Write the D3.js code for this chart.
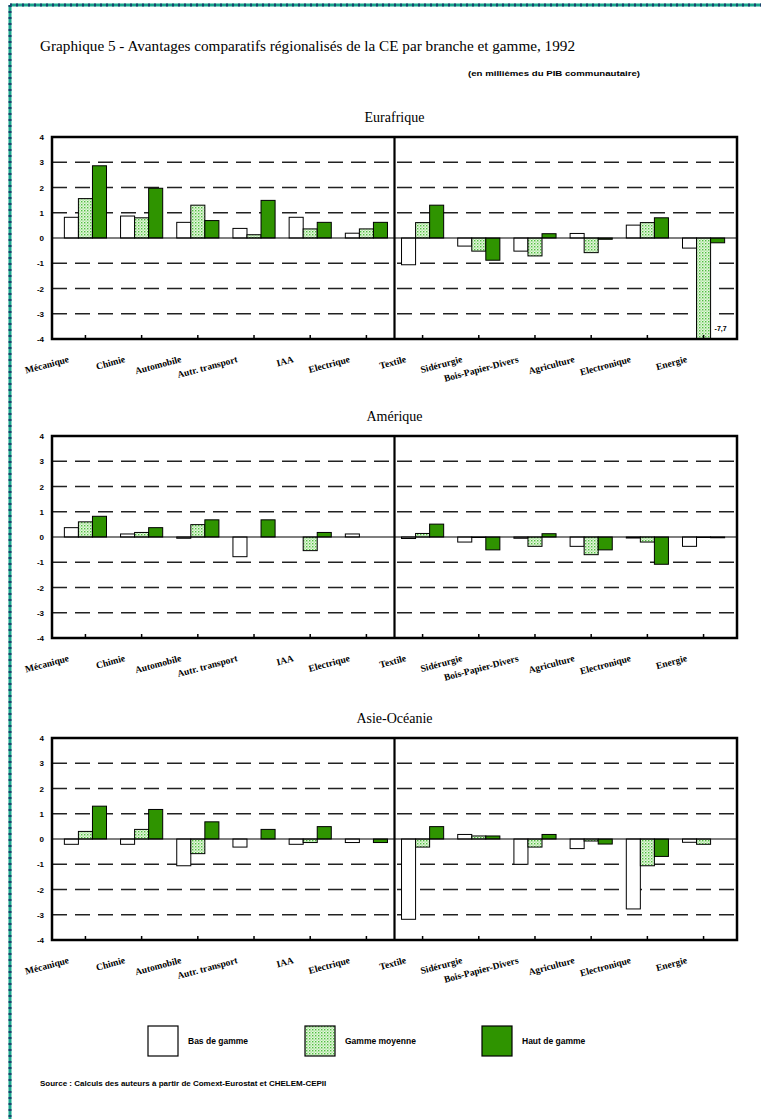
<!DOCTYPE html>
<html><head><meta charset="utf-8">
<script src="https://cdn.jsdelivr.net/npm/d3@7"></script>
<style>body{margin:0;background:#fff}svg{display:block}</style>
</head><body>
<script>
// ---------- data ----------
const categories = ["Mécanique","Chimie","Automobile","Autr. transport","IAA","Electrique","Textile","Sidérurgie","Bois-Papier-Divers","Agriculture","Electronique","Energie"];
const series = ["Bas de gamme","Gamme moyenne","Haut de gamme"];
const regions = ["Eurafrique","Amérique","Asie-Océanie"];
const yTicks = [4,3,2,1,0,-1,-2,-3,-4];

const eurafriqueBas     = [0.82,0.87,0.62,0.38,0.82,0.19,-1.06,-0.32,-0.52,0.18,0.51,-0.40];
const eurafriqueMoyenne = [1.56,0.80,1.30,0.13,0.36,0.36,0.61,-0.52,-0.71,-0.58,0.61,-7.7];
const eurafriqueHaut    = [2.86,1.97,0.69,1.49,0.62,0.62,1.30,-0.88,0.17,-0.05,0.80,-0.19];

const ameriqueBas       = [0.37,0.12,-0.05,-0.78,0,0.12,-0.06,-0.20,-0.05,-0.37,-0.04,-0.37];
const ameriqueMoyenne   = [0.60,0.18,0.49,0,-0.54,0,0.14,-0.02,-0.37,-0.70,-0.20,-0.02];
const ameriqueHaut      = [0.82,0.37,0.68,0.68,0.18,0,0.51,-0.51,0.13,-0.51,-1.08,-0.03];

const asieBas           = [-0.21,-0.21,-1.06,-0.32,-0.21,-0.14,-3.18,0.18,-1.00,-0.38,-2.77,-0.13];
const asieMoyenne       = [0.30,0.38,-0.58,0,-0.14,0,-0.32,0.12,-0.32,-0.08,-1.06,-0.21];
const asieHaut          = [1.30,1.17,0.68,0.38,0.49,-0.14,0.49,0.12,0.18,-0.20,-0.69,0];

const regionData = [
  [eurafriqueBas, eurafriqueMoyenne, eurafriqueHaut],
  [ameriqueBas, ameriqueMoyenne, ameriqueHaut],
  [asieBas, asieMoyenne, asieHaut]
];
const clippedNotes = [{region:0, category:"Energie", serie:1, text:"-7,7"}];

// ---------- layout ----------
const W = 761, H = 1119;
const svg = d3.select("body").append("svg").attr("width", W).attr("height", H);

const defs = svg.append("defs");
const pat = defs.append("pattern").attr("id","dots").attr("patternUnits","userSpaceOnUse")
  .attr("width",3).attr("height",3);
pat.append("rect").attr("width",3).attr("height",3).attr("fill","#e4f6dc");
pat.append("rect").attr("x",0).attr("y",0).attr("width",1.4).attr("height",1.4).attr("fill","#4fbf3f");
pat.append("rect").attr("x",1.5).attr("y",1.5).attr("width",1.2).attr("height",1.2).attr("fill","#8fd882");

const fills = ["#ffffff","url(#dots)","#2f9400"];

// page border (teal dotted)
svg.append("line").attr("x1",10).attr("x2",W).attr("y1",5).attr("y2",5)
  .attr("stroke","#1aa58c").attr("stroke-width",3);
svg.append("line").attr("x1",10).attr("x2",W).attr("y1",5).attr("y2",5)
  .attr("stroke","#1d3f6e").attr("stroke-width",3).attr("stroke-dasharray","2,4");
svg.append("line").attr("x1",10).attr("x2",10).attr("y1",5).attr("y2",H)
  .attr("stroke","#1aa58c").attr("stroke-width",3);
svg.append("line").attr("x1",10).attr("x2",10).attr("y1",5).attr("y2",H)
  .attr("stroke","#1d3f6e").attr("stroke-width",3).attr("stroke-dasharray","2,4");

// titles
svg.append("text").attr("x",40).attr("y",51)
  .attr("font-family","Liberation Serif").attr("font-size",14)
  .attr("textLength",535).attr("lengthAdjust","spacingAndGlyphs")
  .text("Graphique 5 - Avantages comparatifs régionalisés de la CE  par branche et gamme, 1992");
svg.append("text").attr("x",468).attr("y",76)
  .attr("font-family","Liberation Sans").attr("font-weight","bold").attr("font-size",8)
  .attr("textLength",172).attr("lengthAdjust","spacingAndGlyphs")
  .text("(en millièmes du PIB communautaire)");

const left = 52, right = 737;
const panelTops = [137, 436, 738];
const panelH = 202;

const x = d3.scaleBand().domain(categories).range([left, right]).paddingInner(0.25).paddingOuter(0.22);
const xs = d3.scaleBand().domain(d3.range(series.length)).range([0, x.bandwidth()]);
const midX = (x(categories[5]) + x.bandwidth() + x(categories[6])) / 2;

regions.forEach((name, ri) => {
  const top = panelTops[ri];
  const y = d3.scaleLinear().domain([-4, 4]).range([top + panelH, top]).clamp(true);
  const g = svg.append("g");

  g.append("text").attr("x", midX).attr("y", top - 15).attr("text-anchor","middle")
    .attr("font-family","Liberation Serif").attr("font-size",14).text(name);

  // gridlines
  g.selectAll(".grid").data(yTicks.filter(t => t !== 0 && Math.abs(t) < 4)).join("line")
    .attr("x1", left).attr("x2", right).attr("y1", d => y(d)).attr("y2", d => y(d))
    .attr("stroke","#222").attr("stroke-width",1.6).attr("stroke-dasharray","15,8");

  // y labels
  g.selectAll(".yl").data(yTicks).join("text")
    .attr("x", 44).attr("y", d => y(d) + 3).attr("text-anchor","end")
    .attr("font-family","Liberation Sans").attr("font-weight","bold").attr("font-size",8)
    .text(d => d);

  // bars
  const bars = [];
  regionData[ri].forEach((vals, si) => vals.forEach((v, ci) => {
    if (v !== 0) bars.push({si, ci, v});
  }));
  g.selectAll(".bar").data(bars).join("rect")
    .attr("x", d => x(categories[d.ci]) + xs(d.si))
    .attr("width", xs.bandwidth())
    .attr("y", d => Math.min(y(d.v), y(0)))
    .attr("height", d => Math.abs(y(d.v) - y(0)))
    .attr("fill", d => fills[d.si])
    .attr("stroke","#000").attr("stroke-width",1);

  // zero line
  g.append("line").attr("x1", left).attr("x2", right).attr("y1", y(0)).attr("y2", y(0))
    .attr("stroke","#000").attr("stroke-width",1.2);

  // bottom ticks at category centers
  g.selectAll(".tk").data(categories).join("line")
    .attr("x1", d => x(d) + x.bandwidth()/2).attr("x2", d => x(d) + x.bandwidth()/2)
    .attr("y1", top + panelH).attr("y2", top + panelH - 4)
    .attr("stroke","#000").attr("stroke-width",1.5);

  // frame and divider
  g.append("rect").attr("x", left).attr("y", top).attr("width", right - left).attr("height", panelH)
    .attr("fill","none").attr("stroke","#000").attr("stroke-width",2.5);
  g.append("line").attr("x1", midX).attr("x2", midX).attr("y1", top).attr("y2", top + panelH)
    .attr("stroke","#000").attr("stroke-width",2.2);

  // x labels
  g.selectAll(".xl").data(categories).join("text")
    .attr("transform", d => `translate(${x(d) + x.bandwidth()/2 - 16},${top + panelH + 23}) rotate(-15)`)
    .attr("text-anchor","end")
    .attr("font-family","Liberation Serif").attr("font-weight","bold").attr("font-size",9.5)
    .text(d => d);

  // clipped value notes
  clippedNotes.filter(n => n.region === ri).forEach(n => {
    g.append("text")
      .attr("x", x(n.category) + xs(n.serie) + xs.bandwidth() + 4)
      .attr("y", y(-4) - 8)
      .attr("font-family","Liberation Sans").attr("font-weight","bold").attr("font-size",7)
      .text(n.text);
  });
});

// legend
const legendX = [148, 305, 482];
const lg = svg.append("g");
series.forEach((s, i) => {
  lg.append("rect").attr("x", legendX[i]).attr("y", 1026).attr("width", 30).attr("height", 30)
    .attr("fill", fills[i]).attr("stroke","#000").attr("stroke-width",1.2);
  lg.append("text").attr("x", legendX[i] + 40).attr("y", 1044)
    .attr("font-family","Liberation Sans").attr("font-weight","bold").attr("font-size",8.5)
    .text(s);
});

svg.append("text").attr("x",40).attr("y",1086)
  .attr("font-family","Liberation Sans").attr("font-weight","bold").attr("font-size",8)
  .text("Source : Calculs des auteurs à partir de Comext-Eurostat et CHELEM-CEPII");
</script>
</body></html>
